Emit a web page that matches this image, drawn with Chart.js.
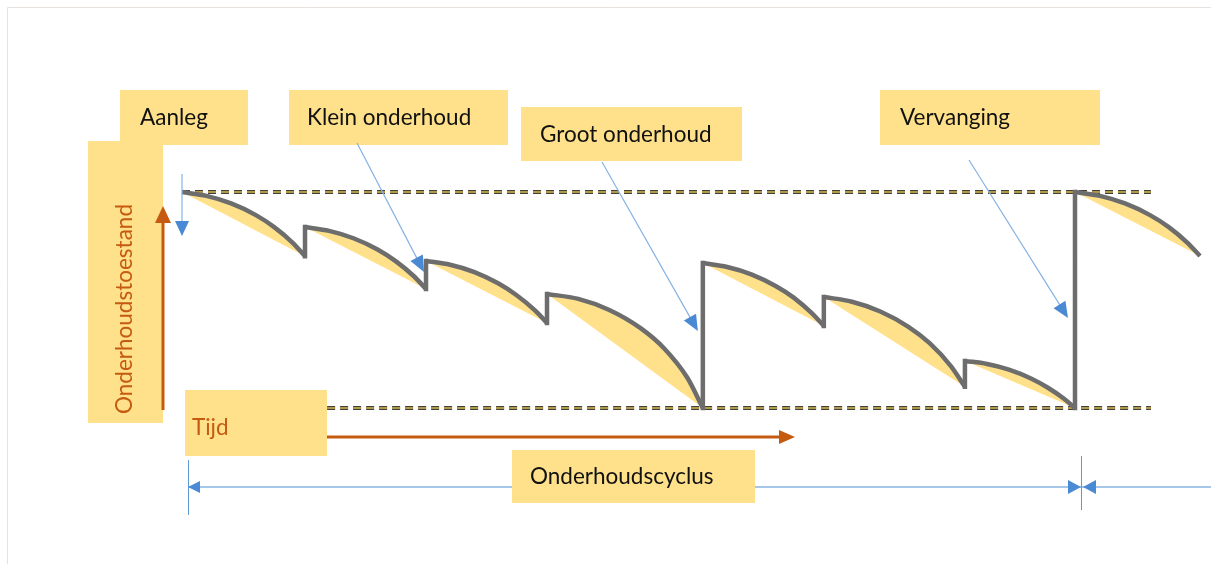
<!DOCTYPE html>
<html>
<head>
<meta charset="utf-8">
<script src="https://cdn.jsdelivr.net/npm/chart.js@4/dist/chart.umd.min.js"></script>
<style>
  html, body { margin: 0; padding: 0; background: #fff; }
  #wrap { width: 1211px; height: 564px; position: relative; }
</style>
</head>
<body>
<div id="wrap"><canvas id="c"></canvas></div>
<script>
// tijd in jaren, toestand in % -- one row per segment between two interventions
const tijd = [
  [0, 1.10, 2.20, 3.31, 4.13, 4.96, 5.51],
  [5.51, 6.59, 7.68, 8.76, 9.57, 10.39, 10.93],
  [10.93, 12.01, 13.10, 14.18, 14.99, 15.81, 16.35],
  [16.35, 17.75, 19.14, 20.54, 21.59, 22.63, 23.33],
  [23.33, 24.42, 25.50, 26.59, 27.40, 28.21, 28.75],
  [28.75, 30.01, 31.28, 32.54, 33.49, 34.44, 35.07],
  [35.07, 36.06, 37.04, 38.03, 38.77, 39.51, 40.0],
  [40.0, 41.12, 42.24, 43.36, 44.20, 45.04, 45.60]
];
const toestand = [
  [100, 98.2, 94.7, 89.3, 83.75, 76.5, 70.3],
  [83.8, 82.0, 78.6, 73.4, 68.0, 61.0, 55.1],
  [68.1, 66.3, 62.9, 57.6, 52.2, 45.2, 39.4],
  [52.8, 50.5, 45.4, 37.0, 27.7, 14.1, 0],
  [67.1, 65.3, 61.9, 56.5, 51.1, 43.9, 38.0],
  [51.4, 49.2, 44.7, 37.6, 30.0, 19.4, 9.8],
  [21.8, 20.4, 17.8, 13.7, 9.5, 4.3, 0],
  [100, 98.2, 94.7, 89.3, 83.75, 76.5, 70.4]
];
const niveaus = [100, 0];           // nieuw / minimaal
const cyclus = [0, 40];             // onderhoudscyclus
const stippelTijd = [0, 6.5, 43.4]; // begin boven, begin onder, einde

const GRIJS = '#6d6d6d';
const GEEL = '#ffe18b';
const BLAUW = '#4a89d3';
const BLAUWLIJN = '#86b3e2';
const ORANJE = '#c55a11';
const FONT = 'Lato, "Open Sans", sans-serif';

const pts = (xs, ys) => xs.map((x, i) => ({ x: x, y: ys[i] }));

const datasets = [];

// dashed reference lines (dark outline + yellow core)
const stippel = (from, y) => [
  { data: [{ x: from, y: y }, { x: stippelTijd[2], y: y }], borderColor: '#3f3f3f', borderWidth: 4,
    borderDash: [8, 5], pointRadius: 0, fill: false, order: 10 },
  { data: [{ x: from, y: y }, { x: stippelTijd[2], y: y }], borderColor: '#d8b84c', borderWidth: 1.5,
    borderDash: [8, 5], pointRadius: 0, fill: false, order: 9 }
];
datasets.push(...stippel(stippelTijd[0], niveaus[0]));
datasets.push(...stippel(stippelTijd[1], niveaus[1]));

// degradation curves, each filled down to its straight chord
tijd.forEach((t, i) => {
  const v = toestand[i];
  datasets.push({
    data: pts(t, v), borderColor: GRIJS, borderWidth: 4.5, pointRadius: 0,
    cubicInterpolationMode: 'monotone', fill: '+1', backgroundColor: GEEL, order: 1
  });
  datasets.push({
    data: [{ x: t[0], y: v[0] }, { x: t[t.length - 1], y: v[v.length - 1] }],
    borderWidth: 0, borderColor: 'rgba(0,0,0,0)', pointRadius: 0, fill: false, order: 5
  });
});

// vertical jumps at each intervention
const sprongen = [];
for (let i = 1; i < tijd.length; i++) {
  const t = tijd[i][0];
  sprongen.push({ x: t, y: toestand[i - 1][toestand[i - 1].length - 1] });
  sprongen.push({ x: t, y: toestand[i][0] });
  sprongen.push({ x: t, y: null });
}
datasets.push({
  data: sprongen, borderColor: GRIJS, borderWidth: 4.5, pointRadius: 0, tension: 0,
  borderCapStyle: 'square', spanGaps: false, fill: false, order: 0
});

function pijlkop(ctx, fx, fy, tx, ty, len, half, kleur) {
  const a = Math.atan2(ty - fy, tx - fx);
  const bx = tx - Math.cos(a) * len, by = ty - Math.sin(a) * len;
  ctx.beginPath();
  ctx.moveTo(tx, ty);
  ctx.lineTo(bx + Math.sin(a) * half, by - Math.cos(a) * half);
  ctx.lineTo(bx - Math.sin(a) * half, by + Math.cos(a) * half);
  ctx.closePath();
  ctx.fillStyle = kleur;
  ctx.fill();
}

function pijl(ctx, fx, fy, tx, ty, lijn, kleur, breedte, len, half) {
  const a = Math.atan2(ty - fy, tx - fx);
  ctx.beginPath();
  ctx.moveTo(fx, fy);
  ctx.lineTo(tx - Math.cos(a) * len * 0.8, ty - Math.sin(a) * len * 0.8);
  ctx.strokeStyle = lijn;
  ctx.lineWidth = breedte;
  ctx.stroke();
  pijlkop(ctx, fx, fy, tx, ty, len, half, kleur);
}

const schets = {
  id: 'schets',
  afterDatasetsDraw(chart) {
    const ctx = chart.ctx;
    const xs = chart.scales.x, ys = chart.scales.y;
    ctx.save();

    // faint frame
    ctx.strokeStyle = '#e8e2de';
    ctx.lineWidth = 1;
    ctx.beginPath();
    ctx.moveTo(7.5, 564); ctx.lineTo(7.5, 7.5); ctx.lineTo(1211, 7.5);
    ctx.stroke();

    // yellow label boxes
    ctx.fillStyle = GEEL;
    [[120, 90, 128, 55], [88, 141, 75, 282], [289, 90, 219, 55], [521, 107, 221, 54],
     [880, 90, 220, 55], [185, 390, 142, 66], [512, 450, 243, 53]].forEach(b => ctx.fillRect(b[0], b[1], b[2], b[3]));

    ctx.font = '22.5px ' + FONT;
    ctx.textBaseline = 'middle';
    ctx.textAlign = 'left';
    ctx.fillStyle = '#111';
    ctx.fillText('Aanleg', 140, 118);
    ctx.fillText('Klein onderhoud', 307, 118);
    ctx.fillText('Groot onderhoud', 540, 135);
    ctx.fillText('Vervanging', 900, 118);
    ctx.fillText('Onderhoudscyclus', 530, 477);
    ctx.fillStyle = ORANJE;
    ctx.fillText('Tijd', 192, 428);
    ctx.save();
    ctx.translate(125, 309);
    ctx.rotate(-Math.PI / 2);
    ctx.textAlign = 'center';
    ctx.fillText('Onderhoudstoestand', 0, 0);
    ctx.restore();

    // orange axes arrows
    pijl(ctx, 163, 410, 163, 206, ORANJE, ORANJE, 3, 17, 8);
    pijl(ctx, 327, 437, 795, 437, ORANJE, ORANJE, 3, 16, 7);

    // blue annotation arrows pointing at the interventions
    const x0 = xs.getPixelForValue(cyclus[0]);
    pijl(ctx, x0, 174, x0, ys.getPixelForValue(niveaus[0]) + 44, BLAUWLIJN, BLAUW, 1.2, 15, 7);
    pijl(ctx, 357, 143, xs.getPixelForValue(tijd[2][0]) - 2, 272, BLAUWLIJN, BLAUW, 1.2, 16, 7);
    pijl(ctx, 602, 162, xs.getPixelForValue(tijd[4][0]) - 5, 331, BLAUWLIJN, BLAUW, 1.2, 16, 7);
    pijl(ctx, 969, 160, xs.getPixelForValue(tijd[7][0]) - 7, 318, BLAUWLIJN, BLAUW, 1.2, 16, 7);

    // maintenance cycle dimension line
    const c0 = xs.getPixelForValue(cyclus[0]) + 6, c1 = xs.getPixelForValue(cyclus[1]) + 6;
    ctx.strokeStyle = '#a7c7ea';
    ctx.lineWidth = 2;
    ctx.beginPath(); ctx.moveTo(c0, 487); ctx.lineTo(512, 487); ctx.moveTo(755, 487); ctx.lineTo(1211, 487); ctx.stroke();
    ctx.strokeStyle = '#5b9bd5';
    ctx.lineWidth = 1;
    ctx.beginPath();
    ctx.moveTo(c0 + 0.5, 460); ctx.lineTo(c0 + 0.5, 515);
    ctx.moveTo(c1 + 0.5, 456); ctx.lineTo(c1 + 0.5, 510);
    ctx.stroke();
    pijlkop(ctx, c0 + 20, 487, c0, 487, 12, 6, BLAUW);
    pijlkop(ctx, c1 - 20, 487, c1, 487, 13, 7, BLAUW);
    pijlkop(ctx, c1 + 20, 487, c1 + 2, 487, 13, 7, BLAUW);

    ctx.restore();
  }
};

new Chart(document.getElementById('c'), {
  type: 'line',
  data: { datasets: datasets },
  options: {
    responsive: true,
    maintainAspectRatio: false,
    animation: false,
    events: [],
    layout: { padding: 0 },
    plugins: { legend: { display: false }, tooltip: { enabled: false } },
    scales: {
      x: { type: 'linear', display: false, min: -8.152, max: 46.092 },
      y: { display: false, min: -72.22, max: 188.89 }
    }
  },
  plugins: [schets]
});
</script>
</body>
</html>
